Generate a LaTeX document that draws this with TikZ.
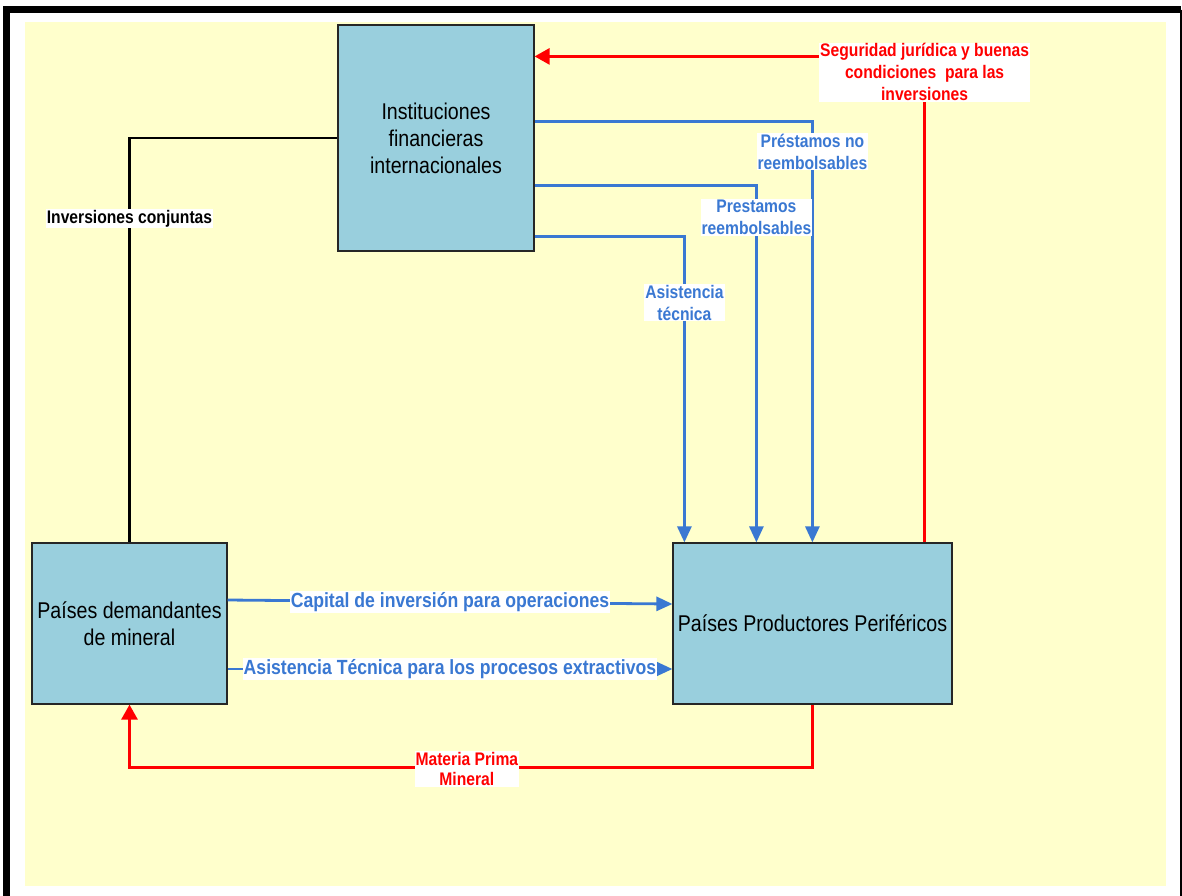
\documentclass[tikz,border=0pt]{standalone}
\usepackage{fontspec}
\setmainfont{Liberation Sans}[FakeStretch=0.86]
\usetikzlibrary{arrows.meta,calc}
\definecolor{fondo}{HTML}{FFFFCC}
\definecolor{cajaazul}{HTML}{99CFDD}
\definecolor{azul}{HTML}{3A78D2}
\definecolor{rojo}{HTML}{FF0000}

\begin{document}
\begin{tikzpicture}[x=1pt,y=-1pt,
  caja/.style={draw=black!85,fill=cajaazul,line width=1.2pt,inner sep=0pt,align=center,
    font=\fontsize{22.8}{27}\selectfont},
  etiq/.style={fill=white,inner sep=1pt,align=center,font=\bfseries\fontsize{18.2}{22}\selectfont},
  etiqgrande/.style={etiq,font=\bfseries\fontsize{20.5}{24}\selectfont},
  lineaazul/.style={draw=azul,line width=2.8pt,-{Triangle[width=14pt,length=16pt]}},
  linearoja/.style={draw=rojo,line width=2.8pt,-{Triangle[width=16pt,length=15pt]}},
  lineanegra/.style={draw=black,line width=2.4pt}]
  \useasboundingbox (0,0) rectangle (1182,895);
  \fill[white] (0,0) rectangle (1182,895);
  % marco
  \draw[line width=7pt] (6.7,905) -- (6.7,9.5) -- (1181,9.5);
  \draw[line width=5pt] (3.2,9.5) -- (1181,9.5);
  \draw[line width=2.5pt] (1181,9.5) -- (1181,905);
  \fill[fondo] (25,22) rectangle (1166,886);

  % cajas
  \node[caja,minimum width=196,minimum height=226] (inst) at (436,138)
    {Instituciones\\financieras\\internacionales};
  \node[caja,minimum width=195,minimum height=161] (dem) at (129.5,623.5)
    {Países demandantes\\de mineral};
  \node[caja,minimum width=279,minimum height=161] (prod) at (812.5,623.5)
    {Países Productores Periféricos};

  % conexiones
  \draw[linearoja] ($(prod.north east)+(-28,0)$) |- ($(inst.north east)+(0,32)$)
    node[etiq,pos=0.5,yshift=-16pt,text=rojo] {Seguridad jurídica y buenas\\condiciones\ \ para las\\inversiones};
  \draw[lineaazul] ($(inst.north east)+(0,97)$) -| ($(prod.north west)+(140,0)$)
    node[etiq,pos=0.536,text=azul] {Préstamos no\\reembolsables};
  \draw[lineaazul] ($(inst.north east)+(0,161)$) -| ($(prod.north west)+(84,0)$)
    node[etiq,pos=0.545,text=azul] {Prestamos\\reembolsables};
  \draw[lineaazul] ($(inst.north east)+(0,212)$) -| ($(prod.north west)+(12,0)$)
    node[etiq,pos=0.608,text=azul] {Asistencia\\técnica};
  \draw[lineanegra] (inst.west) -| (dem.north)
    node[etiq,pos=0.6] {Inversiones conjuntas};
  \draw[lineaazul] ($(dem.east)+(0,-23.5)$) -- ($(prod.west)+(0,-19.5)$)
    node[etiqgrande,midway,text=azul] {Capital de inversión para operaciones};
  \draw[lineaazul] ($(dem.east)+(0,45.5)$) -- ($(prod.west)+(0,45.5)$)
    node[etiqgrande,midway,text=azul] {Asistencia Técnica para los procesos extractivos};
  \draw[linearoja] ($(prod.south west)+(140,0)$) -- ++(0,63) -| (dem.south)
    node[etiq,pos=0.253,yshift=-1.5pt,text=rojo,font=\bfseries\fontsize{18.2}{20}\selectfont] {Materia Prima\\Mineral};
\end{tikzpicture}
\end{document}
